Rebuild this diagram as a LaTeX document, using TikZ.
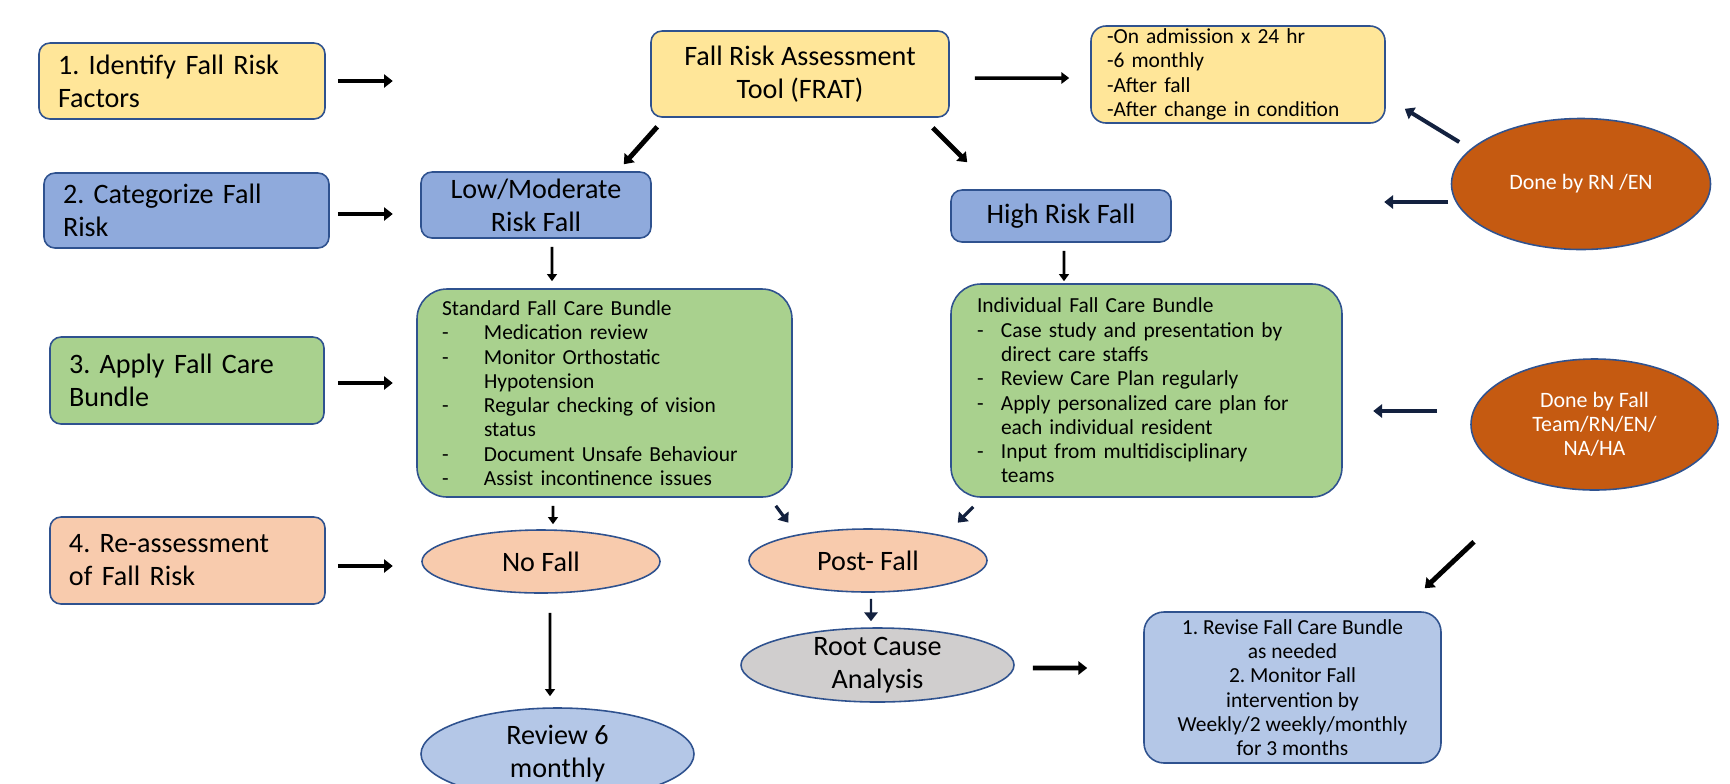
\documentclass[tikz,border=0pt]{standalone}
\usepackage{fontspec}
\setmainfont{Carlito}
\usepackage{tikz}
\usetikzlibrary{arrows.meta,positioning,calc,shapes.geometric}
\frenchspacing
\definecolor{stepyellow}{HTML}{FFE699}
\definecolor{stepblue}{HTML}{8FAADC}
\definecolor{stepgreen}{HTML}{A9D18E}
\definecolor{steppeach}{HTML}{F8CBAD}
\definecolor{reviewblue}{HTML}{B4C7E7}
\definecolor{rootgray}{HTML}{D0CECE}
\definecolor{stafforange}{HTML}{C55A11}
\definecolor{edgeblue}{HTML}{2F528F}
\definecolor{arrownavy}{HTML}{13213F}
\newcommand{\labelfont}{\fontsize{16}{18.8}\selectfont}
\newcommand{\listfont}{\fontsize{12.2}{13.8}\selectfont}
\newcommand{\stafffont}{\fontsize{12.5}{13.8}\selectfont}
\newcommand{\dashline}[2]{\makebox[#1][l]{-}#2}
\newcommand{\indentline}[2]{\hspace*{#1}#2}
\tikzset{
  box/.style = {draw=edgeblue, line width=0.9pt, rounded corners=2.2mm, inner sep=0pt},
  stepbox/.style = {box, align=left, inner xsep=3.8mm, font=\labelfont},
  bundle/.style = {box, rounded corners=6mm, align=left, font=\listfont},
  oval/.style = {ellipse, draw=edgeblue, line width=0.9pt, inner sep=0pt, align=center, font=\labelfont},
  staff/.style = {oval, fill=stafforange, text=white, font=\stafffont},
  bigarrow/.style = {line width=2.8pt, -{Triangle[length=5pt,width=7.5pt]}},
  midarrow/.style = {line width=2pt, -{Triangle[length=4.5pt,width=6.5pt]}},
  thinarrow/.style = {line width=1.6pt, -{Triangle[length=4pt,width=5.5pt]}},
  navyarrow/.style = {bigarrow, arrownavy, line width=2.3pt},
}

\begin{document}
\begin{tikzpicture}
\useasboundingbox (0,0) rectangle (34.6,-15.66);

% Steps
\node[stepbox, fill=stepyellow, text width=4.96cm, minimum height=1.52cm] (identify) at (3.64,-1.62) {1. Identify Fall Risk\\Factors};
\node[stepbox, fill=stepblue, text width=4.94cm, minimum height=1.50cm] (categorize) at (3.73,-4.21) {2. Categorize Fall\\Risk};
\node[stepbox, fill=stepgreen, text width=4.72cm, minimum height=1.74cm] (apply) at (3.74,-7.61) {3. Apply Fall Care\\Bundle};
\node[stepbox, fill=steppeach, text width=4.74cm, minimum height=1.74cm] (reassess) at (3.75,-11.21) {4. Re-assessment\\of Fall Risk};

% Assessment
\node[box, fill=stepyellow, align=center, font=\labelfont, minimum width=5.96cm, minimum height=1.72cm] (frat) at (16.0,-1.48) {Fall Risk Assessment\\Tool (FRAT)};
\node[box, fill=stepyellow, rounded corners=3mm, align=left, font=\listfont, text width=5.24cm, inner xsep=3.2mm, minimum height=1.94cm] (freq) at (24.76,-1.49) {-On admission x 24 hr\\-6 monthly\\-After fall\\-After change in condition};

% Risk level
\node[box, fill=stepblue, align=center, font=\labelfont, minimum width=4.6cm, minimum height=1.32cm] (low) at (10.72,-4.10) {Low/Moderate\\Risk Fall};
\node[box, fill=stepblue, font=\labelfont, minimum width=4.4cm, minimum height=1.04cm] (high) at (21.22,-4.32) {High Risk Fall};
\node[staff, minimum width=5.18cm, minimum height=2.62cm] (byrn) at (31.62,-3.68) {Done by RN /EN};

% Care bundles
\node[bundle, fill=stepgreen, text width=6.5cm, inner xsep=5mm, minimum height=4.16cm] (standard) at (12.09,-7.86) {Standard Fall Care Bundle\\
  \dashline{8.4mm}{Medication review}\\
  \dashline{8.4mm}{Monitor Orthostatic}\\
  \indentline{8.4mm}{Hypotension}\\
  \dashline{8.4mm}{Regular checking of vision}\\
  \indentline{8.4mm}{status}\\
  \dashline{8.4mm}{Document Unsafe Behaviour}\\
  \dashline{8.4mm}{Assist incontinence issues}};
\node[bundle, fill=stepgreen, text width=6.78cm, inner xsep=5.2mm, minimum height=4.26cm] (individual) at (22.93,-7.81) {Individual Fall Care Bundle\\
  \dashline{4.8mm}{Case study and presentation by}\\
  \indentline{4.8mm}{direct care staffs}\\
  \dashline{4.8mm}{Review Care Plan regularly}\\
  \dashline{4.8mm}{Apply personalized care plan for}\\
  \indentline{4.8mm}{each individual resident}\\
  \dashline{4.8mm}{Input from multidisciplinary}\\
  \indentline{4.8mm}{teams}};
\node[staff, minimum width=4.94cm, minimum height=2.62cm] (byteam) at (31.89,-8.49) {Done by Fall\\Team/RN/EN/\\NA/HA};

% Outcomes
\node[oval, fill=steppeach, minimum width=4.76cm, minimum height=1.26cm] (nofall) at (10.82,-11.23) {No Fall};
\node[oval, fill=steppeach, minimum width=4.76cm, minimum height=1.26cm] (postfall) at (17.36,-11.21) {Post- Fall};
\node[oval, fill=rootgray, inner ysep=-1.5mm, minimum width=5.46cm, minimum height=1.48cm] (rootcause) at (17.55,-13.30) {Root Cause\\Analysis};
\node[oval, fill=reviewblue, minimum width=5.46cm, minimum height=1.84cm] (review) at (11.15,-15.08) {Review 6\\monthly};
\node[box, fill=reviewblue, rounded corners=4mm, align=center, font=\listfont, minimum width=5.94cm, minimum height=3.02cm] (revise) at (25.85,-13.75) {1. Revise Fall Care Bundle\\as needed\\2. Monitor Fall\\intervention by\\Weekly/2 weekly/monthly\\for 3 months};

% Arrows
\draw[bigarrow] ([xshift=2.4mm]identify.east) -- ++(1.1,0);
\draw[bigarrow] ([shift={(0.16,-0.07)}]categorize.east) -- ++(1.1,0);
\draw[bigarrow] ([shift={(0.26,-0.05)}]apply.east) -- ++(1.1,0);
\draw[bigarrow] ([shift={(0.24,-0.11)}]reassess.east) -- ++(1.1,0);
\draw[midarrow] ([shift={(0.5,-0.08)}]frat.east) -- ([shift={(-0.42,-0.07)}]freq.west);
\draw[bigarrow] ([shift={(0.14,-0.18)}]frat.south west) -- ([shift={(-0.56,0.14)}]low.north east);
\draw[bigarrow] ([shift={(-0.34,-0.20)}]frat.south east) -- ([shift={(0.34,0.54)}]high.north west);
\draw[thinarrow] ([shift={(0.32,-0.16)}]low.south) -- ([shift={(-1.05,0.14)}]standard.north);
\draw[thinarrow] ([shift={(0.06,-0.16)}]high.south) -- ([shift={(-1.65,0.04)}]individual.north);
\draw[thinarrow] ([shift={(-1.03,-0.16)}]standard.south) -- ([shift={(0.24,0.1)}]nofall.north);
\draw[navyarrow, line width=1.8pt] ([shift={(-0.34,-0.16)}]standard.south east) -- ([shift={(0.10,0.30)}]postfall.north west);
\draw[navyarrow, line width=1.8pt] ([shift={(0.46,-0.18)}]individual.south west) -- ([shift={(0.10,0.30)}]postfall.north east);
\draw[thinarrow] ([shift={(0.18,-0.38)}]nofall.south) -- ([shift={(-0.15,0.22)}]review.north);
\draw[navyarrow, line width=1.4pt] ([shift={(0.06,-0.12)}]postfall.south) -- ([shift={(-0.13,0.12)}]rootcause.north);
\draw[bigarrow] ([shift={(0.36,-0.06)}]rootcause.east) -- ([shift={(-1.12,0.39)}]revise.west);
\draw[navyarrow] ([shift={(0.17,0.84)}]byrn.west) -- ([shift={(0.38,0.30)}]freq.south east);
\draw[navyarrow] ([shift={(-0.05,-0.36)}]byrn.west) -- ++(-1.28,0);
\draw[navyarrow] ([shift={(-0.66,0.27)}]byteam.west) -- ++(-1.28,0);
\draw[bigarrow] ([shift={(-2.41,-1.02)}]byteam.south) -- ([shift={(-0.34,0.46)}]revise.north east);

\end{tikzpicture}
\end{document}
